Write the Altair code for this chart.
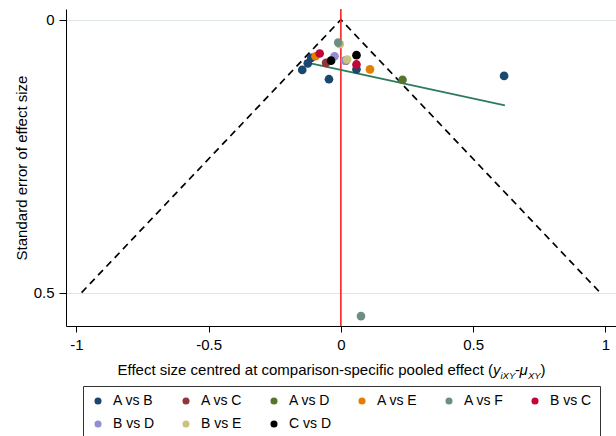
import altair as alt
import pandas as pd

# Comparisons and their colours (legend order)
comparisons = ["A vs B", "A vs C", "A vs D", "A vs E", "A vs F",
               "B vs C", "B vs D", "B vs E", "C vs D"]
palette = ["#1a476f", "#90353b", "#55752f", "#e37e00", "#6e8e84",
           "#c10534", "#938dd2", "#cac27e", "#000000"]

# Study-level points: centred effect size and its standard error
pt_comparison = ["A vs B", "A vs B", "A vs B", "A vs B", "A vs B", "A vs B",
                 "A vs E", "A vs E",
                 "B vs C", "B vs C",
                 "A vs C", "A vs C",
                 "B vs D", "B vs D",
                 "C vs D", "C vs D",
                 "B vs E", "B vs E",
                 "A vs F", "A vs F",
                 "A vs D"]
pt_effect = [-0.146, -0.125, -0.112, -0.045, 0.059, 0.617,
             -0.096, 0.110,
             -0.080, 0.059,
             -0.056, 0.019,
             -0.024, 0.015,
             -0.037, 0.059,
             -0.004, 0.024,
             -0.010, 0.076,
             0.233]
pt_se = [0.092, 0.080, 0.070, 0.109, 0.091, 0.103,
         0.067, 0.091,
         0.062, 0.082,
         0.079, 0.075,
         0.067, 0.075,
         0.075, 0.065,
         0.045, 0.073,
         0.042, 0.543,
         0.110]

# Pseudo 95% confidence funnel
funnel_effect = [-0.98, 0.0, 0.98]
funnel_se = [0.5, 0.0, 0.5]

# Fitted line (small-study effects)
fit_effect = [-0.136, 0.620]
fit_se = [0.0776, 0.157]

x_ticks = [-1, -0.5, 0, 0.5, 1]
y_ticks = [0, 0.5]

FONT = "Liberation Sans"

points = pd.DataFrame({"comparison": pt_comparison, "effect": pt_effect, "se": pt_se})
funnel = pd.DataFrame({"effect": funnel_effect, "se": funnel_se})
fit = pd.DataFrame({"effect": fit_effect, "se": fit_se})
zero = pd.DataFrame({"effect": [0.0]})

x_scale = alt.Scale(domain=[-1.039, 1.04], nice=False, zero=False)
y_scale = alt.Scale(domain=[-0.0196, 0.5612], nice=False, zero=False, reverse=True)

x_axis = alt.Axis(values=x_ticks, labelExpr="toString(datum.value)", title=None,
                  grid=False, tickSize=6, labelPadding=5, domainColor="#000000",
                  tickColor="#000000", labelColor="#000000", labelFontSize=15,
                  labelFont=FONT, labelFlush=False)
y_axis = alt.Axis(values=y_ticks, labelExpr="toString(datum.value)",
                  title="Standard error of effect size", grid=True,
                  gridColor="#dfe6e6", gridWidth=1.2, tickSize=7, labelPadding=5,
                  domainColor="#000000", tickColor="#000000", labelColor="#000000",
                  labelFontSize=15, labelFont=FONT, titleFont=FONT,
                  titleFontSize=15, titleFontWeight="normal", titleColor="#000000",
                  titlePadding=4, labelFlush=False)

funnel_layer = alt.Chart(funnel).mark_line(
    color="#000000", strokeDash=[7, 5], strokeWidth=1.7
).encode(
    x=alt.X("effect:Q", scale=x_scale, axis=x_axis),
    y=alt.Y("se:Q", scale=y_scale, axis=y_axis),
)

zero_layer = alt.Chart(zero).mark_rule(color="#ff2020", strokeWidth=1.6).encode(
    x=alt.X("effect:Q", scale=x_scale)
)

fit_layer = alt.Chart(fit).mark_line(color="#2e7a5c", strokeWidth=1.8).encode(
    x=alt.X("effect:Q", scale=x_scale),
    y=alt.Y("se:Q", scale=y_scale),
)

point_layer = alt.Chart(points).mark_circle(size=75, opacity=1).encode(
    x=alt.X("effect:Q", scale=x_scale),
    y=alt.Y("se:Q", scale=y_scale),
    color=alt.Color(
        "comparison:N",
        scale=alt.Scale(domain=comparisons, range=palette),
        legend=alt.Legend(
            title=None, orient="none", legendX=17, legendY=377,
            direction="horizontal", columns=6, symbolType="circle",
            symbolSize=50, symbolStrokeWidth=0, labelFont=FONT,
            labelFontSize=14, labelColor="#000000", labelOffset=8,
            columnPadding=24, rowPadding=9, padding=8,
            strokeColor="#333333", fillColor="#ffffff",
        ),
    ),
)

# Axis title with subscripted symbols, composed from text pieces
title_base = 366
title_sub = 369.5
title_pieces = [
    ("Effect size centred at comparison-specific pooled effect (", 427, title_base, 15, "normal", "right"),
    ("y", 427, title_base, 15, "italic", "left"),
    ("iXY", 434.5, title_sub, 9.5, "italic", "left"),
    ("-", 449, title_base, 15, "normal", "left"),
    ("\u03bc", 453.5, title_base, 15, "italic", "left"),
    ("XY", 462, title_sub, 9.5, "italic", "left"),
    (")", 474.5, title_base, 15, "normal", "left"),
]
title_layers = []
for text, px, py, fs, style, al in title_pieces:
    title_layers.append(
        alt.Chart(pd.DataFrame({"t": [text]})).mark_text(
            x=px, y=py, align=al, baseline="alphabetic", fontSize=fs,
            fontStyle=style, font=FONT, color="#000000"
        ).encode(text="t:N")
    )

chart = alt.layer(
    funnel_layer, zero_layer, fit_layer, point_layer, *title_layers
).properties(
    width=550,
    height=317,
    autosize=alt.AutoSizeParams(type="none"),
    padding={"left": 66, "top": 9, "right": 0, "bottom": 110},
    background="#ffffff",
).configure_view(stroke=None)

chart.save("out.html", embed_options={"renderer": "svg", "actions": False})
